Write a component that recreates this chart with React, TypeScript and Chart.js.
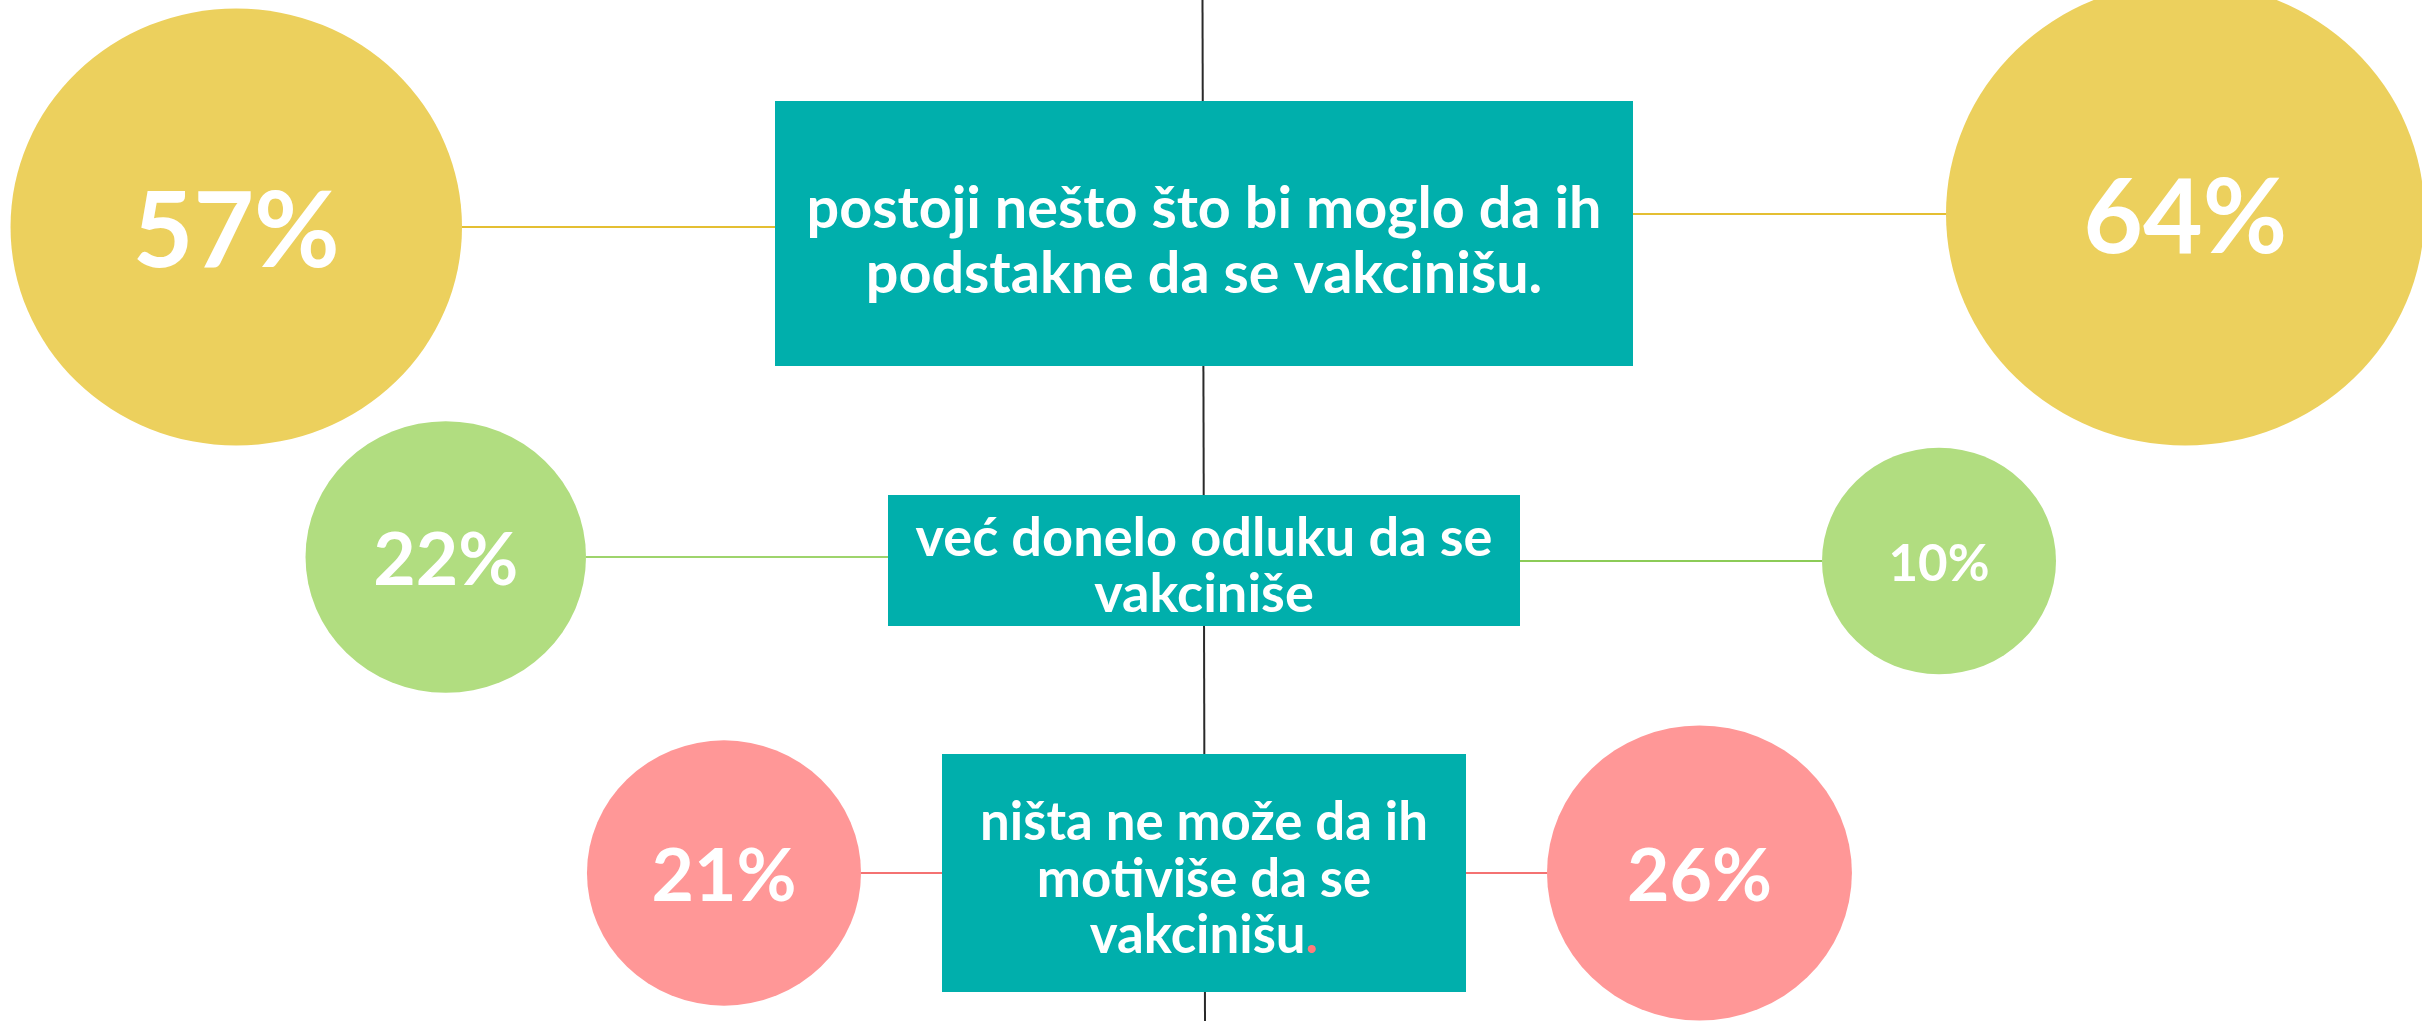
import React, { useEffect, useRef } from "react";
import { Chart, registerables } from "chart.js";

Chart.register(...registerables);

// ---------------- data ----------------
const categoryLines: string[][] = [
  ["postoji nešto što bi moglo da ih", "podstakne da se vakcinišu."],
  ["već donelo odluku da se", "vakciniše"],
  ["ništa ne može da ih", "motiviše da se", "vakcinišu."],
];
const leftValues = [57, 22, 21];
const rightValues = [64, 10, 26];

// ---------------- layout (stage units, x measured from the centre axis) ----------------
const STAGE_W = 2422;
const STAGE_H = 1021;
const AXIS_X = 1204;
const boxWidth = [858, 632, 524];
const boxHeight = [265, 131, 238];
const rowCentre = [233.5, 560.5, 873];
const connectorLen = [313, 302, 81];
const bubbleShiftLeft = [-6.5, -3.5, 0];
const bubbleShiftRight = [-19.5, 0.5, 0];
const textWidth = [795, 577, 448];
const lineHeight = [65, 56, 56.5];
const textShift = [27, 23.5, 23.5];
const labelWidthLeft = [207, 145, 145];
const labelWidthRight = [204, 101, 145];
const RADIUS_PER_SQRT = 29.9;
const MIN_RADIUS = 117;
const ELLIPSE_RATIO = 0.968;

// ---------------- styles ----------------
const FONT = "Lato, 'Open Sans', sans-serif";
const TEAL = "#00AFAC";
const AXIS_COLOR = "#2A2A2A";
const bubbleColor = ["#ECD05D", "#B1DD80", "#FF9797"];
const connectorLeftColor = ["#E4BF33", "#9ED46C", "#F47272"];
const connectorRightColor = ["#E4BF33", "#8CCB57", "#F47272"];
const accentPeriod = [null, null, "#FF7B7B"];

const radiusFor = (v: number) => Math.max(MIN_RADIUS, RADIUS_PER_SQRT * Math.sqrt(v));

function makePoints(values: number[], side: number, shift: number[]) {
  return values.map((v, i) => {
    const rx = radiusFor(v);
    return {
      x: side * (boxWidth[i] / 2 + connectorLen[i] + rx),
      y: rowCentre[i] + shift[i],
      r: rx * ELLIPSE_RATIO,
      rx,
      v,
      row: i,
    };
  });
}

function fitFont(ctx: CanvasRenderingContext2D, text: string, target: number) {
  ctx.font = `700 100px ${FONT}`;
  const w = ctx.measureText(text).width;
  return (100 * target) / w;
}

const infographic = {
  id: "infographic",
  beforeDatasetsDraw(chart: any) {
    const { ctx } = chart;
    const xs = chart.scales.x;
    const ys = chart.scales.y;
    ctx.save();
    // centre axis
    ctx.strokeStyle = AXIS_COLOR;
    ctx.lineWidth = 2;
    ctx.beginPath();
    ctx.moveTo(xs.getPixelForValue(-1.5), ys.getPixelForValue(0));
    ctx.lineTo(xs.getPixelForValue(1), ys.getPixelForValue(STAGE_H));
    ctx.stroke();

    // connectors
    chart.data.datasets.forEach((ds: any, di: number) => {
      const meta = chart.getDatasetMeta(di);
      const side = di === 0 ? -1 : 1;
      meta.data.forEach((el: any, i: number) => {
        const raw = ds.data[i];
        const boxEdge = xs.getPixelForValue((side * boxWidth[i]) / 2);
        const bubbleEdge = xs.getPixelForValue(raw.x - side * raw.rx);
        ctx.strokeStyle = di === 0 ? connectorLeftColor[i] : connectorRightColor[i];
        ctx.lineWidth = 2;
        ctx.beginPath();
        ctx.moveTo(boxEdge, el.y);
        ctx.lineTo(bubbleEdge, el.y);
        ctx.stroke();
      });
    });

    // category boxes
    categoryLines.forEach((lines, i) => {
      const left = xs.getPixelForValue(-boxWidth[i] / 2);
      const right = xs.getPixelForValue(boxWidth[i] / 2);
      const top = ys.getPixelForValue(rowCentre[i] - boxHeight[i] / 2);
      const bottom = ys.getPixelForValue(rowCentre[i] + boxHeight[i] / 2);
      ctx.fillStyle = TEAL;
      ctx.fillRect(left, top, right - left, bottom - top);

      const fs = fitFont(ctx, lines[0], textWidth[i]);
      ctx.font = `700 ${fs}px ${FONT}`;
      ctx.textBaseline = "alphabetic";
      ctx.textAlign = "left";
      const cx = xs.getPixelForValue(0);
      const cy = ys.getPixelForValue(rowCentre[i]);
      lines.forEach((line, li) => {
        const by = cy + (li - (lines.length - 1) / 2) * lineHeight[i] + textShift[i];
        const accent = accentPeriod[i];
        const isLast = li === lines.length - 1;
        if (accent && isLast && line.endsWith(".")) {
          const main = line.slice(0, -1);
          const wMain = ctx.measureText(main).width;
          const wAll = ctx.measureText(line).width;
          const sx = cx - wAll / 2;
          ctx.fillStyle = "#FFFFFF";
          ctx.fillText(main, sx, by);
          ctx.fillStyle = accent;
          ctx.fillText(".", sx + wMain, by);
        } else {
          const w = ctx.measureText(line).width;
          ctx.fillStyle = "#FFFFFF";
          ctx.fillText(line, cx - w / 2, by);
        }
      });
    });
    ctx.restore();
  },
  afterDatasetsDraw(chart: any) {
    const { ctx } = chart;
    const xs = chart.scales.x;
    ctx.save();
    chart.data.datasets.forEach((ds: any, di: number) => {
      const meta = chart.getDatasetMeta(di);
      meta.data.forEach((el: any, i: number) => {
        const raw = ds.data[i];
        const rxPx = Math.abs(xs.getPixelForValue(raw.x + raw.rx) - el.x);
        const ryPx = raw.r;
        ctx.fillStyle = bubbleColor[i];
        ctx.beginPath();
        ctx.ellipse(el.x, el.y, rxPx, ryPx, 0, 0, Math.PI * 2);
        ctx.fill();

        const label = `${raw.v}%`;
        const target = di === 0 ? labelWidthLeft[i] : labelWidthRight[i];
        const fs = fitFont(ctx, label, target);
        ctx.font = `700 ${fs}px ${FONT}`;
        ctx.fillStyle = "#FFFFFF";
        ctx.textAlign = "center";
        ctx.textBaseline = "alphabetic";
        ctx.fillText(label, el.x, el.y + 0.36 * fs + 2);
      });
    });
    ctx.restore();
  },
};

export default function App() {
  const canvasRef = useRef<HTMLCanvasElement | null>(null);

  useEffect(() => {
    const canvas = canvasRef.current;
    if (!canvas) return;
    const chart = new Chart(canvas, {
      type: "bubble",
      data: {
        datasets: [
          {
            label: "left",
            data: makePoints(leftValues, -1, bubbleShiftLeft) as any,
            backgroundColor: "rgba(0,0,0,0)",
            borderWidth: 0,
            clip: false as any,
          },
          {
            label: "right",
            data: makePoints(rightValues, 1, bubbleShiftRight) as any,
            backgroundColor: "rgba(0,0,0,0)",
            borderWidth: 0,
            clip: false as any,
          },
        ],
      },
      options: {
        animation: false,
        responsive: false,
        maintainAspectRatio: false,
        devicePixelRatio: 1,
        events: [],
        layout: { padding: 0, autoPadding: false } as any,
        plugins: {
          legend: { display: false },
          tooltip: { enabled: false },
        },
        scales: {
          x: { type: "linear", display: false, min: -AXIS_X, max: STAGE_W - AXIS_X },
          y: { type: "linear", display: false, min: 0, max: STAGE_H, reverse: true },
        },
      },
      plugins: [infographic],
    });
    return () => chart.destroy();
  }, []);

  return (
    <div style={{ position: "fixed", left: 0, top: 0, width: STAGE_W, height: STAGE_H, background: "#FFFFFF", overflow: "hidden" }}>
      <canvas ref={canvasRef} width={STAGE_W} height={STAGE_H} style={{ display: "block", width: STAGE_W, height: STAGE_H }} />
    </div>
  );
}
